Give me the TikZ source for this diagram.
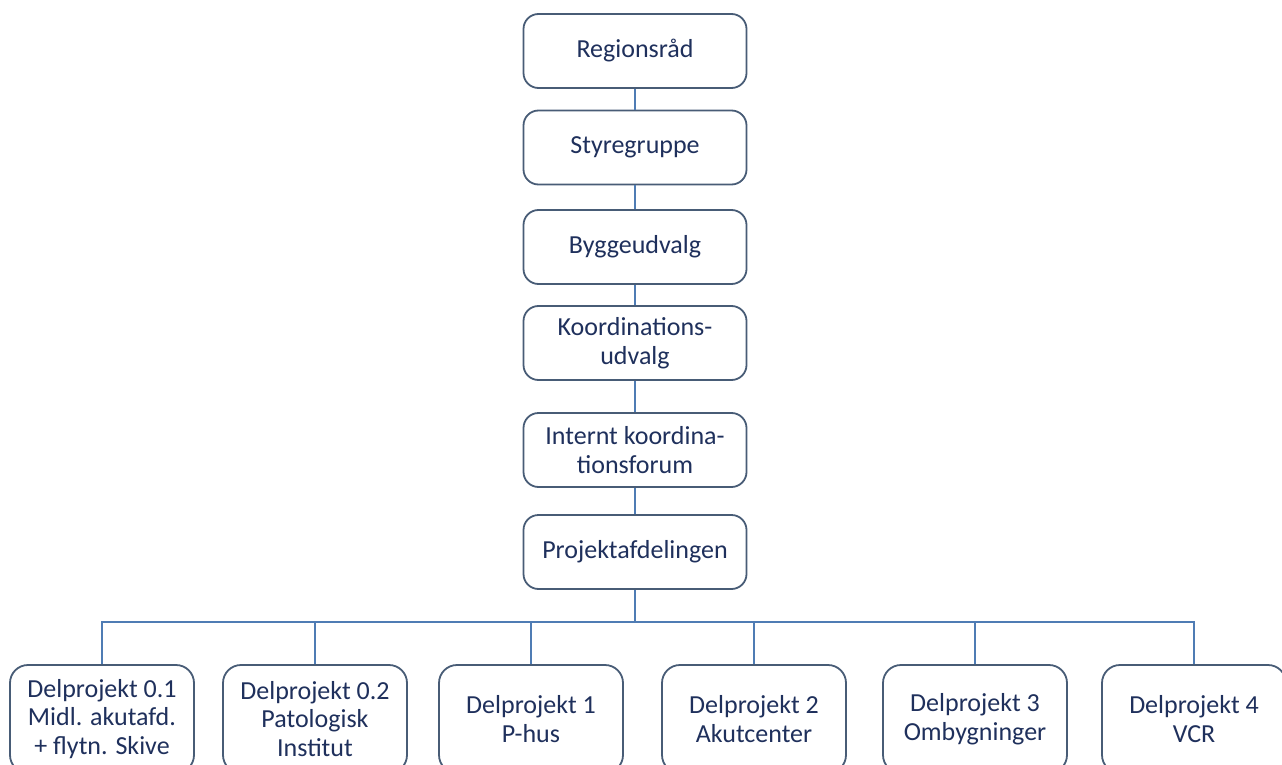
\documentclass[tikz,border=0pt]{standalone}
\usepackage{fontspec}
\setmainfont{Carlito}
\usepackage{tikz}
\usetikzlibrary{arrows,shapes,positioning}
\definecolor{boxline}{RGB}{72,92,118}
\definecolor{boxtext}{RGB}{31,48,92}
\definecolor{busline}{RGB}{79,124,180}
\tikzset{
    basic/.style  = {draw=boxline, line width=1.8pt, rectangle, rounded corners=15pt,
                     text=boxtext, align=center, fill=white,
                     font=\fontsize{26}{28.5}\selectfont},
    top/.style    = {basic, minimum width=223pt, minimum height=74pt},
    sub/.style    = {basic, rounded corners=18pt, minimum width=184pt, minimum height=108pt},
    link/.style   = {draw=busline, line width=1.8pt}
}

\begin{document}
\begin{tikzpicture}[x=1pt,y=-1pt]
	\useasboundingbox (0,0) rectangle (1282,765);
		\begin{scope}[every node/.style={top}]
			\node (reg)  at (635,51)  {Regionsråd};
			\node (sty)  at (635,147.5) {Styregruppe};
			\node (byg)  at (635,247) {Byggeudvalg};
			\node (koo)  at (635,343) {Koordinations-\\udvalg};
			\node (int)  at (635,450) {Internt koordina-\\tionsforum};
			\node (proj) at (635,552) {Projektafdelingen};
		\end{scope}
		\begin{scope}[every node/.style={sub}]
			\node (d01) at (102,719)  {Delprojekt 0.1\\Midl. akutafd.\\+ flytn. Skive};
			\node (d02) at (315,719)  {Delprojekt 0.2\\Patologisk\\Institut};
			\node (d1)  at (531,719)  {Delprojekt 1\\P-hus};
			\node (d2)  at (754,719)  {Delprojekt 2\\Akutcenter};
			\node (d3)  at (975,719)  {Delprojekt 3\\Ombygninger};
			\node (d4)  at (1194,719) {Delprojekt 4\\VCR};
		\end{scope}
		\coordinate (bus) at (635,622);
		\draw[link] (reg) -- (sty);
		\draw[link] (sty) -- (byg);
		\draw[link] (byg) -- (koo);
		\draw[link] (koo) -- (int);
		\draw[link] (int) -- (proj);
		\draw[link] (proj.south) -- (bus) -| (d01.north);
		\draw[link] (proj.south) -- (bus) -| (d02.north);
		\draw[link] (proj.south) -- (bus) -| (d1.north);
		\draw[link] (proj.south) -- (bus) -| (d2.north);
		\draw[link] (proj.south) -- (bus) -| (d3.north);
		\draw[link] (proj.south) -- (bus) -| (d4.north);
	\end{tikzpicture}
\end{document}
